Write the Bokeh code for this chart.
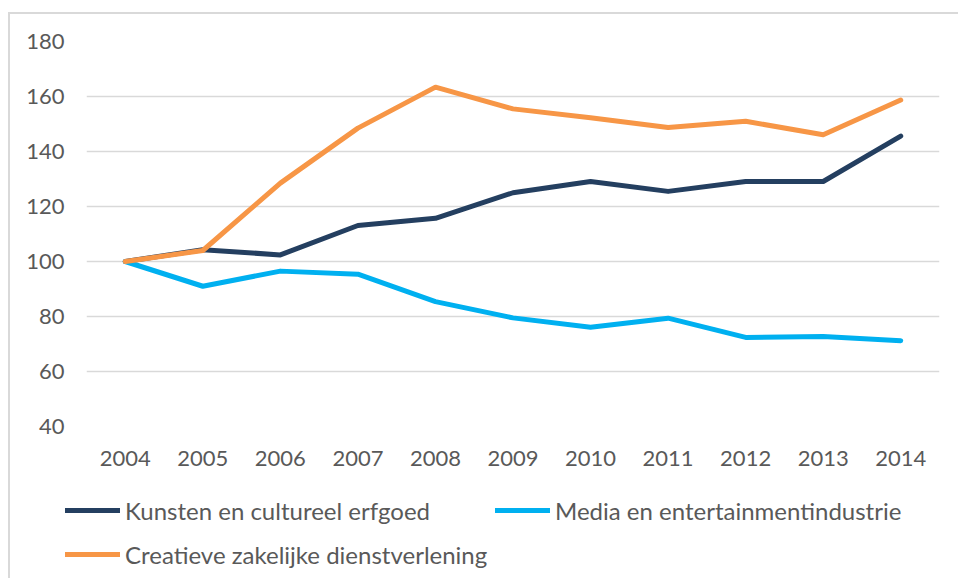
from bokeh.plotting import figure
from bokeh.models import FactorRange, Range1d, FixedTicker, Legend, LegendItem
from bokeh.embed import file_html
from bokeh.resources import INLINE

years = ["2004", "2005", "2006", "2007", "2008", "2009", "2010", "2011", "2012", "2013", "2014"]
kunsten = [100, 104.3, 102.4, 113.1, 115.7, 125.0, 129.1, 125.5, 129.1, 129.1, 145.6]
media = [100, 91.0, 96.5, 95.4, 85.4, 79.5, 76.1, 79.4, 72.4, 72.7, 71.2]
creatief = [100, 104.0, 128.5, 148.5, 163.4, 155.5, 152.3, 148.7, 151.0, 146.1, 158.7]
y_ticks = [40, 60, 80, 100, 120, 140, 160, 180]

names = ["Kunsten en cultureel erfgoed", "Media en entertainmentindustrie", "Creatieve zakelijke dienstverlening"]
colors = ["#243F60", "#00B0F0", "#F79646"]
series = [kunsten, media, creatief]

FONT = "Lato"
TXT = "#595959"

p = figure(
    x_range=FactorRange(*years, range_padding=0),
    y_range=Range1d(40, 180),
    frame_width=853, frame_height=385,
    min_border_left=76, min_border_right=19, min_border_top=27, min_border_bottom=62,
    output_backend="svg", toolbar_location=None,
)
p.styles = {"border-left": "2px solid #d9d9d9", "border-top": "2px solid #d9d9d9",
            "margin-top": "12px", "margin-left": "8px"}
p.outline_line_color = None
p.background_fill_color = "white"
p.border_fill_color = "white"

p.xgrid.grid_line_color = None
p.ygrid.grid_line_color = "#d9d9d9"
p.ygrid.grid_line_width = 1.5
p.yaxis.ticker = FixedTicker(ticks=y_ticks)

for ax in (p.xaxis[0], p.yaxis[0]):
    ax.axis_line_color = None
    ax.major_tick_line_color = None
    ax.minor_tick_line_color = None
    ax.major_tick_in = 0
    ax.major_tick_out = 0
    ax.major_label_text_font = FONT
    ax.major_label_text_font_size = "22px"
    ax.major_label_text_color = TXT
p.yaxis.major_label_standoff = 22
p.xaxis.major_label_standoff = 24

for vals, col in zip(series, colors):
    p.line(years, vals, line_color=col, line_width=5, line_cap="round", line_join="round")

# legend-only figure below the chart (its lines lie outside its view)
lf = figure(
    x_range=FactorRange(*years, range_padding=0),
    y_range=Range1d(1000, 1001),
    width=948, height=90,
    min_border_left=0, min_border_right=0, min_border_top=0, min_border_bottom=0,
    output_backend="svg", toolbar_location=None,
)
lf.styles = {"border-left": "2px solid #d9d9d9", "margin-left": "8px"}
lf.axis.visible = False
lf.grid.visible = False
lf.outline_line_color = None
lf.border_fill_color = "white"
lf.background_fill_color = "white"

items = []
for n, vals, col in zip(names, series, colors):
    r = lf.line(years, vals, line_color=col, line_width=5, line_cap="round")
    items.append(LegendItem(label=n, renderers=[r]))

lg = Legend(items=items, orientation="horizontal", ncols=2, location=(55, 2))
lg.padding = 0
lg.margin = 0
lg.spacing = 0
lg.border_line_color = None
lg.background_fill_alpha = 0
lg.glyph_width = 55
lg.glyph_height = 44
lg.label_height = 44
lg.label_width = 370
lg.label_standoff = 5
lg.label_text_font = FONT
lg.label_text_font_size = "24px"
lg.label_text_color = TXT
lg.label_text_baseline = "middle"
lf.add_layout(lg)

open("out.html", "w").write(file_html([p, lf], INLINE))
